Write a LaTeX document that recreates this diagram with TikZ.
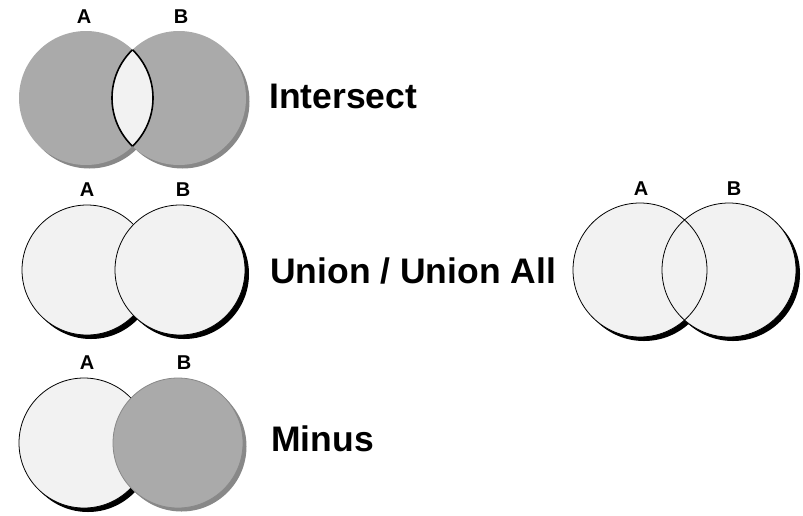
\documentclass[tikz,border=0pt]{standalone}
\usepackage{fontspec}
\setmainfont{Liberation Sans}
\definecolor{setgray}{HTML}{AAAAAA}
\definecolor{setlight}{HTML}{F2F2F2}
\definecolor{shadegray}{HTML}{888888}
\tikzset{
	setlbl/.style={font=\fontsize{20}{24}\selectfont\bfseries, inner sep=0pt},
	optitle/.style={font=\fontsize{35.5}{42}\selectfont\bfseries, inner sep=0pt, anchor=base west},
	ring/.style={fill=setlight, draw=black, line width=0.8pt},
}
\begin{document}
\begin{tikzpicture}[x=1pt, y=-1pt, line join=round, line cap=round]
	\useasboundingbox (0,0) rectangle (803,515);
	% centres
	\coordinate (iA) at (86,98);   \coordinate (iB) at (179,98);
	\coordinate (uA) at (87,270);  \coordinate (uB) at (180,270);
	\coordinate (mA) at (84,443);  \coordinate (mB) at (178,443);
	\coordinate (rA) at (640,270); \coordinate (rB) at (729,270);
	% intersect
	\fill[shadegray] ([shift={(3.5,3.5)}]iA) circle[radius=67pt] ([shift={(3.5,3.5)}]iB) circle[radius=67pt];
	\fill[setgray] (iA) circle[radius=67pt] (iB) circle[radius=67pt];
	\begin{scope}
		\clip (iA) circle[radius=67pt];
		\fill[setlight] (iB) circle[radius=67pt];
		\draw[line width=1.6pt] (iB) circle[radius=67pt];
	\end{scope}
	\begin{scope}
		\clip (iB) circle[radius=67pt];
		\draw[line width=1.6pt] (iA) circle[radius=67pt];
	\end{scope}
	\draw (84,17) node[setlbl] (iLA) {A};
	\draw (181,17) node[setlbl] (iLB) {B};
	\draw (269,108) node[optitle] (iT) {Intersect};
	% union
	\fill[black] ([shift={(4,4)}]uA) circle[radius=65pt];
	\draw[ring] (uA) circle[radius=65pt];
	\fill[black] ([shift={(4,4)}]uB) circle[radius=65pt];
	\draw[ring] (uB) circle[radius=65pt];
	\draw (87,190) node[setlbl] (uLA) {A};
	\draw (183,190) node[setlbl] (uLB) {B};
	\draw (270,283) node[optitle] (uT) {Union / Union All};
	% union, both outlines
	\fill[black] ([shift={(4,4)}]rA) circle[radius=67pt] ([shift={(4,4)}]rB) circle[radius=67pt];
	\fill[setlight] (rA) circle[radius=67pt] (rB) circle[radius=67pt];
	\draw[line width=0.8pt] (rA) circle[radius=67pt] (rB) circle[radius=67pt];
	\draw (641,189) node[setlbl] (rLA) {A};
	\draw (734,189) node[setlbl] (rLB) {B};
	% minus
	\fill[black] ([shift={(4,4)}]mA) circle[radius=65pt];
	\draw[ring] (mA) circle[radius=65pt];
	\fill[shadegray] ([shift={(3.5,3.5)}]mB) circle[radius=65pt];
	\draw[fill=setgray, draw=shadegray, line width=0.8pt] (mB) circle[radius=65pt];
	\draw (87,363) node[setlbl] (mLA) {A};
	\draw (184,363) node[setlbl] (mLB) {B};
	\draw (271,451) node[optitle] (mT) {Minus};
\end{tikzpicture}
\end{document}
